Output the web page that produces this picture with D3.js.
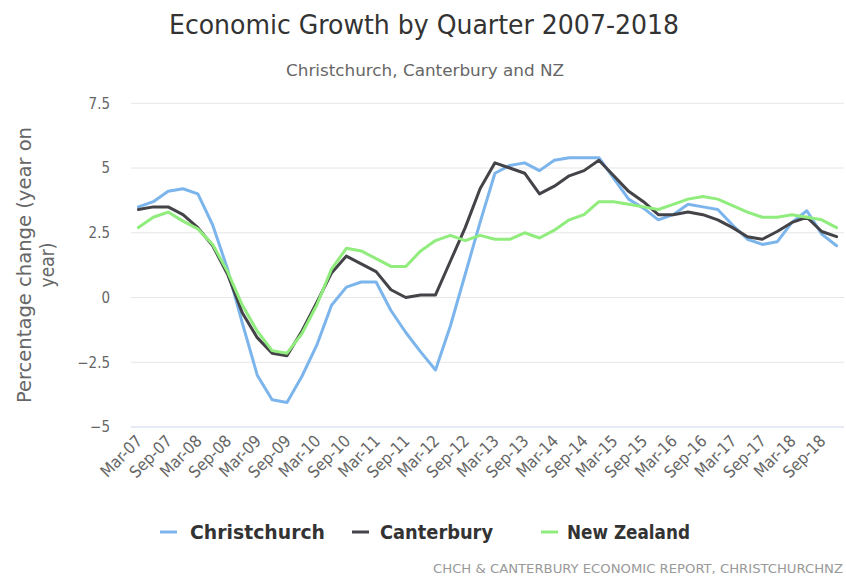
<!DOCTYPE html>
<html>
<head>
<meta charset="utf-8">
<script src="https://cdn.jsdelivr.net/npm/d3@7"></script>
<style>
  body { margin: 0; background: #fff; }
  svg { display: block; font-family: "Liberation Sans Narrow", "DejaVu Sans Condensed", "Open Sans", sans-serif; }
</style>
</head>
<body>
<div id="chart"></div>
<script>
const quarters = [
    "Mar-07", "Jun-07", "Sep-07", "Dec-07", "Mar-08", "Jun-08", "Sep-08", "Dec-08",
    "Mar-09", "Jun-09", "Sep-09", "Dec-09", "Mar-10", "Jun-10", "Sep-10", "Dec-10",
    "Mar-11", "Jun-11", "Sep-11", "Dec-11", "Mar-12", "Jun-12", "Sep-12", "Dec-12",
    "Mar-13", "Jun-13", "Sep-13", "Dec-13", "Mar-14", "Jun-14", "Sep-14", "Dec-14",
    "Mar-15", "Jun-15", "Sep-15", "Dec-15", "Mar-16", "Jun-16", "Sep-16", "Dec-16",
    "Mar-17", "Jun-17", "Sep-17", "Dec-17", "Mar-18", "Jun-18", "Sep-18", "Dec-18"
];

const christchurch = [
    3.5, 3.7, 4.1, 4.2, 4.0, 2.8, 1.1, -1.0, -3.0, -3.95, -4.05, -3.05,
    -1.85, -0.3, 0.4, 0.6, 0.6, -0.5, -1.35, -2.1, -2.8, -1.1, 0.9, 2.9,
    4.8, 5.1, 5.2, 4.9, 5.3, 5.4, 5.4, 5.4, 4.6, 3.8, 3.45, 3.0,
    3.2, 3.6, 3.5, 3.4, 2.8, 2.25, 2.05, 2.15, 2.9, 3.35, 2.45, 2.0
];
const canterbury = [
    3.4, 3.5, 3.5, 3.2, 2.7, 2.0, 0.9, -0.6, -1.55, -2.15, -2.25, -1.3,
    -0.2, 0.95, 1.6, 1.3, 1.0, 0.3, 0.0, 0.1, 0.1, 1.4, 2.7, 4.2,
    5.2, 5.0, 4.8, 4.0, 4.3, 4.7, 4.9, 5.3, 4.7, 4.1, 3.7, 3.2,
    3.2, 3.3, 3.2, 3.0, 2.7, 2.35, 2.25, 2.55, 2.9, 3.1, 2.55, 2.35
];
const newZealand = [
    2.7, 3.1, 3.3, 2.95, 2.65, 2.05, 1.0, -0.3, -1.3, -2.05, -2.15, -1.4,
    -0.3, 1.1, 1.9, 1.8, 1.5, 1.2, 1.2, 1.8, 2.2, 2.4, 2.2, 2.4,
    2.25, 2.25, 2.5, 2.3, 2.6, 3.0, 3.2, 3.7, 3.7, 3.6, 3.5, 3.4,
    3.6, 3.8, 3.9, 3.8, 3.55, 3.3, 3.1, 3.1, 3.2, 3.1, 3.0, 2.7
];
const yTicks = [-5, -2.5, 0, 2.5, 5, 7.5];

const series = [
    { name: "Christchurch", values: christchurch, color: "#7cb5ec" },
    { name: "Canterbury", values: canterbury, color: "#434348" },
    { name: "New Zealand", values: newZealand, color: "#90ed7d" }
];

const width = 846, height = 579;
const plot = { left: 131, right: 844, top: 103.3, bottom: 427 };

const svg = d3.select("#chart").append("svg")
    .attr("width", width)
    .attr("height", height);

const x = d3.scalePoint()
    .domain(quarters)
    .range([plot.left, plot.right])
    .padding(0.5);

const y = d3.scaleLinear()
    .domain([-5, 7.5])
    .range([plot.bottom, plot.top]);

// title + subtitle
svg.append("text")
    .attr("x", 424).attr("y", 34)
    .attr("text-anchor", "middle")
    .attr("font-size", 27)
    .attr("fill", "#333")
    .attr("textLength", 510).attr("lengthAdjust", "spacingAndGlyphs")
    .text("Economic Growth by Quarter 2007-2018");

svg.append("text")
    .attr("x", 425).attr("y", 76)
    .attr("text-anchor", "middle")
    .attr("font-size", 16)
    .attr("fill", "#666")
    .attr("textLength", 278).attr("lengthAdjust", "spacingAndGlyphs")
    .text("Christchurch, Canterbury and NZ");

// grid
svg.append("g")
    .selectAll("line")
    .data(yTicks)
    .enter().append("line")
    .attr("x1", plot.left).attr("x2", plot.right)
    .attr("y1", d => y(d)).attr("y2", d => y(d))
    .style("stroke", d => d === -5 ? "#ccd6eb" : "#e6e6e6")
    .style("stroke-width", 1);

// y axis labels
const fmt = d3.format("");
svg.append("g")
    .selectAll("text")
    .data(yTicks)
    .enter().append("text")
    .attr("x", 110)
    .attr("y", d => y(d))
    .attr("dy", "0.35em")
    .attr("text-anchor", "end")
    .attr("font-size", 15)
    .attr("fill", "#666")
    .text(d => fmt(d));

// y axis title, two lines
const yTitle = svg.append("text")
    .attr("transform", "translate(0,265) rotate(-90)")
    .attr("text-anchor", "middle")
    .attr("font-size", 19)
    .attr("fill", "#666");
yTitle.append("tspan").attr("x", 0).attr("y", 31)
    .attr("textLength", 276).attr("lengthAdjust", "spacingAndGlyphs")
    .text("Percentage change (year on");
yTitle.append("tspan").attr("x", 0).attr("y", 54).text("year)");

// x axis labels, every second quarter
svg.append("g")
    .selectAll("text")
    .data(quarters.filter((q, i) => i % 2 === 0))
    .enter().append("text")
    .attr("transform", d => `translate(${x(d) + 5},442) rotate(-45)`)
    .attr("text-anchor", "end")
    .attr("font-size", 16.5)
    .attr("fill", "#666")
    .text(d => d);

// lines
const line = d3.line()
    .x((d, i) => x(quarters[i]))
    .y(d => y(d));

svg.append("g")
    .selectAll("path")
    .data(series)
    .enter().append("path")
    .attr("d", d => line(d.values))
    .attr("fill", "none")
    .attr("stroke", d => d.color)
    .attr("stroke-width", 3)
    .attr("stroke-linejoin", "round")
    .attr("stroke-linecap", "round");

// legend
const legendPos = [
    { sx: 160, tx: 190, w: 135 },
    { sx: 352, tx: 380, w: 113 },
    { sx: 541, tx: 567, w: 123 }
];
const legend = svg.append("g")
    .selectAll("g")
    .data(series)
    .enter().append("g");

legend.append("line")
    .attr("x1", (d, i) => legendPos[i].sx)
    .attr("x2", (d, i) => legendPos[i].sx + 17)
    .attr("y1", 532).attr("y2", 532)
    .attr("stroke", d => d.color)
    .attr("stroke-width", 3);

legend.append("text")
    .attr("x", (d, i) => legendPos[i].tx)
    .attr("y", 539)
    .attr("font-size", 20)
    .attr("font-weight", "bold")
    .attr("fill", "#333")
    .attr("textLength", (d, i) => legendPos[i].w)
    .attr("lengthAdjust", "spacingAndGlyphs")
    .text(d => d.name);

// credits
svg.append("text")
    .attr("x", 843).attr("y", 573)
    .attr("text-anchor", "end")
    .attr("font-size", 13)
    .attr("fill", "#999")
    .attr("textLength", 410).attr("lengthAdjust", "spacingAndGlyphs")
    .text("CHCH & CANTERBURY ECONOMIC REPORT, CHRISTCHURCHNZ");
</script>
</body>
</html>
